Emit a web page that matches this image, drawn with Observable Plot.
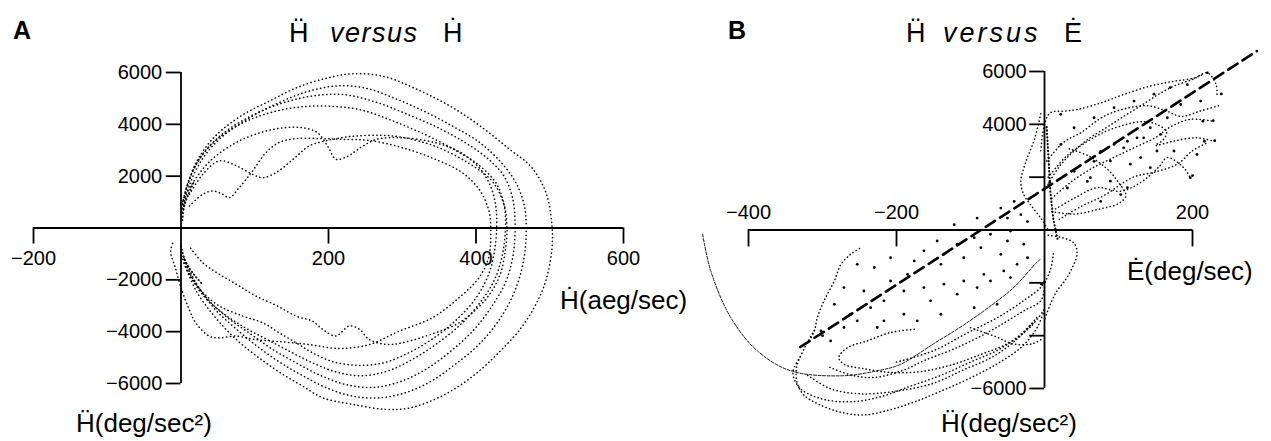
<!DOCTYPE html>
<html><head><meta charset="utf-8">
<script src="https://cdn.jsdelivr.net/npm/d3@7"></script>
<script src="https://cdn.jsdelivr.net/npm/@observablehq/plot@0.6"></script>
<style>
body{margin:0;background:#fff;}
#wrap{position:relative;width:1271px;height:441px;overflow:hidden;background:#fff;}
#panelA{position:absolute;left:0;top:0;}
#panelB{position:absolute;left:640px;top:0;}
#ann{position:absolute;left:0;top:0;pointer-events:none;}
</style>
</head><body>
<div id="wrap"><div id="panelA"></div><div id="panelB"></div>
<svg id="ann" width="1271" height="441" font-family="Liberation Sans, Arial, DejaVu Sans, sans-serif">
  <text x="13" y="39" font-size="25" font-weight="bold">A</text>
  <text x="289" y="42" font-size="27">Ḧ</text>
  <text x="330" y="42" font-size="27" font-style="italic" letter-spacing="1.5">versus</text>
  <text x="443" y="42" font-size="27">Ḣ</text>
  <text x="728" y="39" font-size="25" font-weight="bold">B</text>
  <text x="906" y="42" font-size="27">Ḧ</text>
  <text x="943" y="42" font-size="27" font-style="italic" letter-spacing="3">versus</text>
  <text x="1064" y="42" font-size="27">Ė</text>
  <text x="560" y="309" font-size="26">Ḣ(aeg/sec)</text>
  <text x="76" y="432" font-size="26">Ḧ(deg/sec²)</text>
  <text x="1127" y="280" font-size="26">Ė(deg/sec)</text>
  <text x="941" y="432" font-size="26">Ḧ(deg/sec²)</text>
</svg>
</div>
<script>
// ---------- Panel A data (Ḣ deg/sec, Ḧ deg/sec²) ----------
const xTicksA = [-200, 200, 400, 600];
const yTicksA = [-6000, -4000, -2000, 2000, 4000, 6000];

const loopA1 = [[2,600],[8,1500],[20,2500],[45,3500],[80,4300],[120,4900],[160,5450],[200,5800],[232,5950],[275,5850],[320,5350],[365,4700],[405,3950],[445,3050],[475,2350],[495,1350],[503,100],[503,-800],[495,-2000],[482,-2900],[460,-3900],[431,-4800],[405,-5500],[377,-6100],[345,-6600],[309,-6950],[278,-7000],[232,-6800],[192,-6550],[165,-6100],[141,-5700],[110,-5100],[75,-4300],[45,-3400],[20,-2400],[5,-1400]];
const loopA2 = [[3,700],[12,1700],[30,2700],[55,3500],[90,4200],[130,4800],[170,5250],[210,5480],[250,5400],[290,5000],[330,4500],[370,3900],[405,3300],[435,2500],[455,1700],[466,800],[468,-100],[466,-1000],[458,-2000],[445,-2900],[425,-3800],[400,-4600],[370,-5300],[340,-5900],[305,-6350],[270,-6550],[235,-6500],[200,-6200],[165,-5700],[135,-5200],[105,-4600],[75,-3900],[45,-3100],[20,-2100],[3,-1100]];
const loopA3 = [[1,800],[10,1800],[28,2800],[55,3600],[90,4250],[130,4750],[175,5080],[220,5150],[265,4850],[310,4350],[350,3850],[385,3300],[415,2700],[438,2000],[450,1100],[453,0],[450,-1100],[440,-2100],[422,-3000],[398,-3900],[368,-4700],[335,-5400],[300,-5900],[262,-6150],[225,-6050],[190,-5700],[156,-5200],[125,-4700],[95,-4100],[65,-3500],[38,-2800],[15,-1900],[2,-1000]];
const loopA4 = [[0,600],[8,1600],[24,2600],[48,3400],[80,4000],[115,4400],[155,4650],[200,4700],[245,4550],[290,4100],[335,3550],[372,3000],[405,2400],[428,1700],[438,900],[440,0],[436,-1000],[425,-2000],[405,-2900],[380,-3700],[350,-4400],[318,-5000],[282,-5500],[245,-5700],[210,-5550],[178,-5200],[150,-4800],[120,-4350],[90,-3900],[60,-3350],[30,-2600],[12,-1800],[0,-1000]];
const loopA5 = [[0,900],[15,1700],[40,2600],[75,3300],[110,3700],[140,3870],[165,3870],[185,3680],[200,3100],[210,2650],[225,2750],[245,3130],[265,3420],[300,3480],[345,3290],[380,2900],[405,2300],[420,1600],[427,800],[428,0],[425,-900],[417,-1800],[400,-2700],[375,-3500],[345,-4200],[310,-4800],[275,-5200],[240,-5300],[205,-5150],[178,-4810],[156,-4430],[133,-4040],[111,-3660],[84,-3400],[52,-3010],[30,-2500],[12,-1850],[0,-1080]];
const loopA6 = [[11.5,1300],[29.5,2070],[52,2590],[75,2400],[97,2070],[111,1940],[129,2140],[152,2650],[174,3170],[196,3360],[219,3490],[237,3550],[270,3580],[300,3500],[345,3150],[390,2500],[422,1800],[438,900],[442,0],[440,-800],[432,-1850],[413,-2760],[377,-3660],[345,-4040],[300,-4430],[278,-4490],[255,-4300],[242,-3910],[228,-3780],[210,-4170],[192,-3910],[178,-3590],[156,-3400],[130,-3000],[100,-2600],[75,-2170],[50,-1750],[29.5,-1340],[11,-700]];
const loopA7 = [[11.5,850],[29.5,1300],[43,1430],[56.5,1300],[65.5,1170],[79,1560],[97,2200],[115,2900],[133,3300],[156,3450],[190,3450],[220,3420],[255,3380],[300,3100],[345,2650],[381,2140],[404,1500],[417,720],[420,0],[417,-1150],[404,-1920],[377,-2690],[341,-3460],[296,-3980],[255,-4500],[215,-4650],[175,-4500],[140,-4400],[100,-4300],[74,-4170],[52,-4240],[38,-4170],[20,-3660],[11,-3140],[0,-2300],[-8,-1500],[-14,-900],[-10,-500]];
const denseA1 = [[2,300],[4,800],[10,1300],[18,1800]];
const denseA2 = [[0,-700],[5,-1200],[15,-1700],[30,-2200]];

// ---------- Panel B data (Ė deg/sec, Ḧ deg/sec²) ----------
const xTicksB = [-400, -200, 200];
const yTicksB = [-6000, -4000, -2000, 2000, 4000, 6000];
const yLabelsB = [-6000, 4000, 6000];

const regLineB = [[-330,-4430],[287,6770]];
const curveB = [[-462,-163],[-451,-1550],[-424,-3315],[-388,-4575],[-343,-5330],[-275,-5520],[-226,-5330],[-195,-5090],[-150,-4310],[-106,-3535],[-61,-2625],[-39,-2110],[-12,-1270],[-6,-1120]];

const trB1 = [[0,1500],[20,2400],[40,3000],[62,3500],[85,3900],[107,4300],[130,4700],[152,5100],[175,5450],[200,5700],[220,5950],[232,5500],[233,5130]];
const trB2 = [[5,2000],[30,2800],[55,3300],[80,3700],[105,3950],[130,4100],[152,4000],[165,3700],[160,3400],[150,3200],[174,3360],[206,3490],[229,3360]];
const trB3 = [[10,1200],[35,1800],[62,2300],[90,2700],[120,3100],[150,3500],[170,3900],[197,4190],[227,4120]];
const trB4 = [[15,800],[40,1200],[71,1600],[103,1470],[130,1800],[155,2400],[166,2740],[188,2360],[197,1980]];
const trB5 = [[-5,3000],[0,4000],[8,4440],[26,4500],[44,4560],[76,4810],[107,5130],[143,5450],[175,5630],[202,5750],[215,5900]];
const trB6 = [[-5,4400],[-14,3400],[-25,2600],[-32,1840],[-28,1340],[-19,960],[-5,450],[5,0]];
const trB7 = [[10,700],[40,600],[75,800],[100,1000],[110,1300],[100,1800],[85,2300],[60,2800],[30,3100]];
const trB8 = [[0,2500],[25,3300],[50,3700],[80,4300],[110,4600],[140,4700],[165,4500],[185,4300],[210,4500],[235,4700]];
const trB9 = [[20,400],[50,900],[80,1300],[120,2000],[150,2200],[180,2500],[200,3000],[220,3300]];
const trBL1 = [[-311,-3800],[-325,-4500],[-335,-5200],[-334,-5800],[-325,-6250],[-305,-6600],[-275,-6900],[-244,-7000],[-208,-6800],[-175,-6500],[-140,-6100],[-100,-5600],[-60,-5000],[-30,-4400],[-10,-3700],[0,-3000]];
const trBL2 = [[-176,-3760],[-208,-3880],[-240,-4200],[-266,-4450],[-278,-4830],[-271,-5080],[-244,-5250],[-205,-5400],[-165,-5350],[-125,-5100],[-85,-4700],[-50,-4300],[-20,-3700],[0,-3000]];
const trBL3 = [[-290,-5200],[-260,-5500],[-230,-5580],[-190,-5300],[-163,-4950],[-118,-4450],[-73,-3820],[-50,-3440],[-28,-3060],[-5,-2680],[0,-2180]];
const trBL4 = [[-250,-700],[-262,-920],[-275,-1300],[-284,-1930],[-298,-2680],[-307,-3310],[-311,-3820],[-320,-4300]];
const trBL5 = [[5,-200],[25,-300],[40,-500],[44,-900],[38,-1400],[28,-1900],[17,-2300],[8,-2800],[0,-3400]];
const trBL6 = [[-200,-5000],[-150,-4570],[-106,-3925],[-61,-3275],[-26,-2630],[-3,-2110],[8,-1500],[12,-900]];
const trBL7 = [[-100,-3700],[-65,-4050],[-43,-4310],[-17,-4310],[-3,-4120]];
const trBL8 = [[-330,-4800],[-340,-5400],[-330,-6000],[-300,-6400],[-260,-6500],[-220,-6300],[-180,-5900],[-140,-5500],[-100,-5000],[-60,-4500],[-30,-3900],[-10,-3300]];
const trBL9 = [[-320,-5500],[-290,-6000],[-250,-6200],[-200,-6100],[-150,-5800],[-110,-5300],[-70,-4800],[-40,-4200],[-15,-3500]];
const denseB = [[3,3900],[4,3400],[5,2900],[6,2400],[7,1900],[8,1400],[10,900],[12,400],[15,0],[18,-400]];

const dotsB = [[-253,-1300],[-230,-1420],[-208,-1050],[-176,-1170],[-163,-790],[-145,-416],[-118,-540],[-95,-290],[-73,-160],[-50,-416],[-28,-540],[-23,-1050],[-37,-1300],[-55,-1550],[-82,-1680],[-109,-1930],[-136,-2050],[-163,-2180],[-190,-2310],[-217,-2680],[-235,-2940],[-253,-3440],[-271,-3690],[-289,-4200],[-226,-3690],[-190,-3190],[-154,-2680],[-118,-2430],[-91,-2180],[-73,-1930],[-46,-1800],[-271,-2180],[-284,-2810],[-262,-3190],[-244,-2310],[-208,-1930],[-185,-1680],[-140,-1300],[-109,-1050],[-86,-670],[-59,-920],[-46,-38],[-136,-920],[-217,-3440],[-172,-3440],[-140,-3190],[-95,-2940],[-64,-2810],[-302,-3820],[-300,-4000],
  [-122,200],[-91,450],[-59,830],[-41,1080],[-32,580],[-23,320],[-50,450],[31,1590],[58,1840],[40,2220],[67,2600],[76,2980],[94,3240],[112,3360],[134,3490],[157,3620],[22,3240],[40,3870],[67,4250],[94,4630],[121,4880],[148,5140],[170,5390],[22,4380],[76,1080],[103,1340],
  [214,4120],[216,3360],[197,1980],[220,5950],[193,5500],[211,4880],[184,4750],[166,4250],[143,3870],[125,3490],[107,3110],[130,2740],[152,2990],[175,2990],[206,2860],[143,2360],[116,2490],[89,2610],[62,1980],[89,1850],[112,1600],[239,5150],[228,4140],[230,3380],[200,2060],[7,1800],[0,-1975],[-4,-2050]];

// ---------- helpers ----------
const fmt = d => d < 0 ? "\u2212" + Math.abs(d) : String(d);
const rows = (obj) => Object.entries(obj).flatMap(([id, arr]) => arr.map(([x, y]) => ({x, y, id})));
const FONT = "Liberation Sans, Arial, DejaVu Sans, sans-serif";

const tracesA = rows({loopA1, loopA2, loopA3, loopA4, loopA5, loopA6, loopA7});
const denseARows = rows({denseA1, denseA2});

const chartA = Plot.plot({
  width: 640, height: 441,
  marginLeft: 33, marginRight: 17, marginTop: 72, marginBottom: 58,
  x: {domain: [-200, 600], axis: null},
  y: {domain: [-6000, 6000], axis: null},
  style: {fontFamily: FONT, background: "white", overflow: "visible"},
  marks: [
    Plot.line(tracesA, {x: "x", y: "y", z: "id", stroke: "#000", strokeWidth: 1.5, strokeDasharray: "0.3 3.6", strokeLinecap: "round", curve: "catmull-rom"}),
    Plot.line(denseARows, {x: "x", y: "y", z: "id", stroke: "#000", strokeWidth: 1.8, strokeDasharray: "0.5 3", strokeLinecap: "round", curve: "catmull-rom"}),
    Plot.ruleY([0], {x1: -200, x2: 600, stroke: "#000", strokeWidth: 1.8}),
    Plot.ruleX([0], {y1: -6000, y2: 6000, stroke: "#000", strokeWidth: 1.8}),
    Plot.ruleX(xTicksA, {x: d => d, y1: 0, y2: -620, stroke: "#000", strokeWidth: 1.8}),
    Plot.ruleY(yTicksA, {y: d => d, x1: -20, x2: 0, stroke: "#000", strokeWidth: 1.8}),
    Plot.text(xTicksA, {x: d => d, y: 0, dy: 31, text: fmt, fontSize: 20, fill: "#000"}),
    Plot.text(yTicksA, {x: -20, y: d => d, dx: -4, text: fmt, textAnchor: "end", fontSize: 20, fill: "#000"})
  ]
});
document.getElementById("panelA").appendChild(chartA);

const tracesB = rows({trB1, trB2, trB3, trB4, trB5, trB6, trB7, trB8, trB9, trBL1, trBL2, trBL3, trBL4, trBL5, trBL6, trBL7, trBL8, trBL9});
const denseBRows = rows({denseB});
const regRows = rows({regLineB});
const curveRows = rows({curveB});
const dotRows = dotsB.map(([x, y]) => ({x, y}));

const chartB = Plot.plot({
  width: 631, height: 441,
  marginLeft: 108, marginRight: 79, marginTop: 71, marginBottom: 53,
  x: {domain: [-400, 200], axis: null},
  y: {domain: [-6000, 6000], axis: null},
  style: {fontFamily: FONT, background: "white", overflow: "visible"},
  marks: [
    Plot.line(tracesB, {x: "x", y: "y", z: "id", stroke: "#000", strokeWidth: 1.5, strokeDasharray: "0.3 3.4", strokeLinecap: "round", curve: "catmull-rom"}),
    Plot.line(denseBRows, {x: "x", y: "y", z: "id", stroke: "#000", strokeWidth: 2, strokeDasharray: "0.4 3", strokeLinecap: "round"}),
    Plot.dot(dotRows, {x: "x", y: "y", r: 1.4, fill: "#000", stroke: null}),
    Plot.line(curveRows, {x: "x", y: "y", stroke: "#000", strokeWidth: 0.9, strokeDasharray: "3 1.5", curve: "catmull-rom"}),
    Plot.line(regRows, {x: "x", y: "y", stroke: "#000", strokeWidth: 2.6, strokeDasharray: "11 6"}),
    Plot.ruleY([0], {x1: -400, x2: 200, stroke: "#000", strokeWidth: 1.8}),
    Plot.ruleX([0], {y1: -6000, y2: 6000, stroke: "#000", strokeWidth: 1.8}),
    Plot.ruleX(xTicksB, {x: d => d, y1: 0, y2: -640, stroke: "#000", strokeWidth: 1.8}),
    Plot.ruleY(yTicksB, {y: d => d, x1: -20, x2: 0, stroke: "#000", strokeWidth: 1.8}),
    Plot.text(xTicksB, {x: d => d, y: 0, dy: -17, text: fmt, fontSize: 20, fill: "#000"}),
    Plot.text(yLabelsB, {x: -20, y: d => d, dx: -3, text: fmt, textAnchor: "end", fontSize: 20, fill: "#000"})
  ]
});
document.getElementById("panelB").appendChild(chartB);
</script>
</body></html>
